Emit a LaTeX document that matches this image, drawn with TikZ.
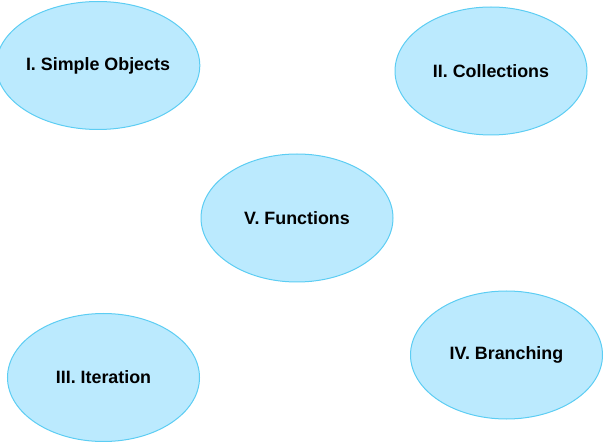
\documentclass[tikz,border=0pt]{standalone}
\usepackage{fontspec}
\setmainfont{Liberation Sans}
\usepackage{tikz}
\usetikzlibrary{shapes.geometric}

\definecolor{topicfill}{RGB}{187,234,254}
\definecolor{topicline}{RGB}{92,205,243}

\tikzset{topic/.style={ellipse, draw=topicline, fill=topicfill, line width=0.75pt,
  inner sep=0pt, minimum width=144pt, minimum height=96pt, font=\bfseries\fontsize{13.4}{15}\selectfont}}

\begin{document}
\begin{tikzpicture}[x=0.75pt, y=-0.75pt]
\useasboundingbox (0,0) rectangle (604,442);

\node[topic] (simple) at (98,65.5) {I. Simple Objects};
\node[topic] (coll) at (491,71) {II. Collections};
\node[topic] (func) at (297,218) {V. Functions};
\node[topic] (iter) at (103.5,377.5) {III. Iteration};
\node[topic] (branch) at (506.5,355) {IV. Branching};
\end{tikzpicture}
\end{document}
